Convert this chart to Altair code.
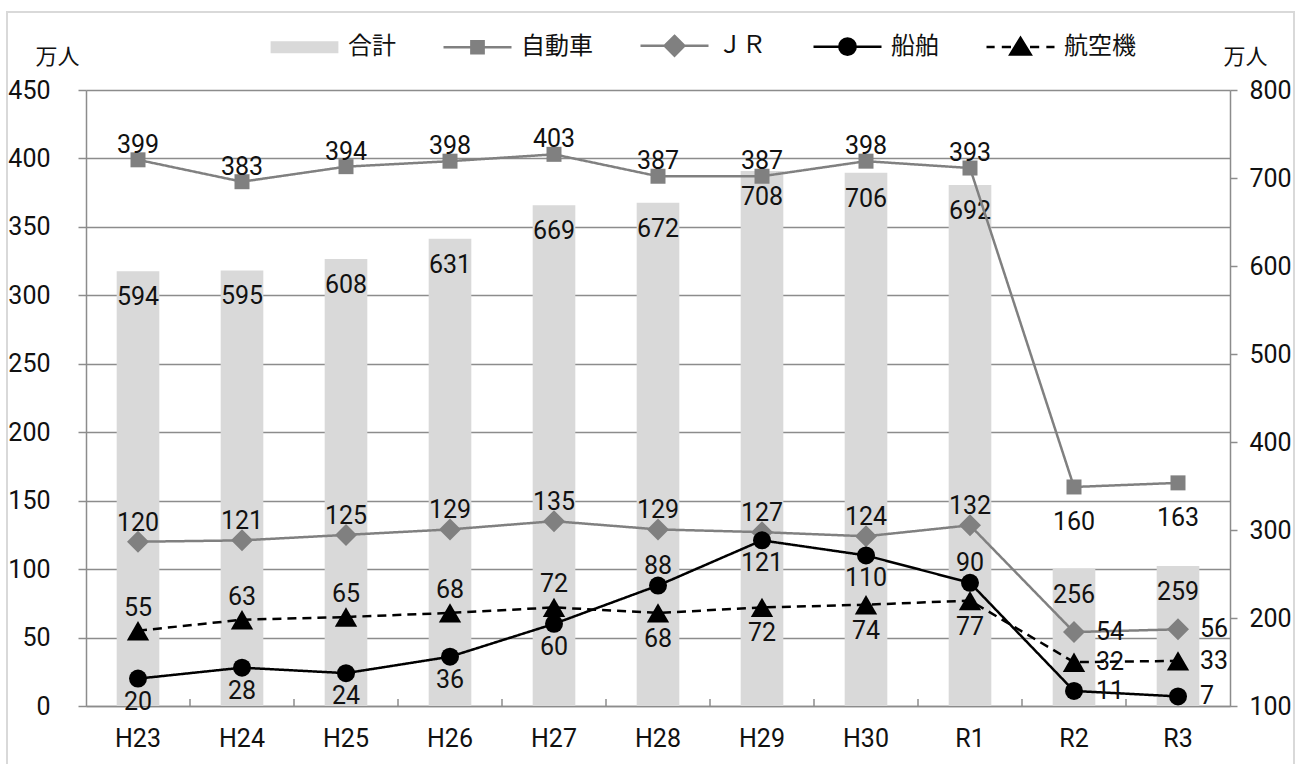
import altair as alt
import pandas as pd

# 年度ごとの利用者数（万人）
years = ["H23", "H24", "H25", "H26", "H27", "H28", "H29", "H30", "R1", "R2", "R3"]
total = [594, 595, 608, 631, 669, 672, 708, 706, 692, 256, 259]
car = [399, 383, 394, 398, 403, 387, 387, 398, 393, 160, 163]
jr = [120, 121, 125, 129, 135, 129, 127, 124, 132, 54, 56]
ship = [20, 28, 24, 36, 60, 88, 121, 110, 90, 11, 7]
air = [55, 63, 65, 68, 72, 68, 72, 74, 77, 32, 33]

# データラベルの配置（系列ごと）
car_pos = ["above"] * 9 + ["below"] * 2
jr_pos = ["above"] * 9 + ["right"] * 2
ship_pos = ["below", "below", "below", "below", "below", "above",
            "below", "below", "above", "right", "right"]
air_pos = ["above"] * 5 + ["below"] * 4 + ["right"] * 2

series_names = ["合計", "自動車", "ＪＲ", "船舶", "航空機"]

NUM_FONT = "Liberation Sans Narrow, Roboto, sans-serif"
CJK_FONT = "Noto Sans CJK JP, sans-serif"
GRID = "#8c8c8c"
TXT = "#111111"
BAR = "#d9d9d9"
W, H = 1144, 616

df_total = pd.DataFrame({"year": years, "total": total})

frames = []
for name, vals, pos in [("自動車", car, car_pos), ("ＪＲ", jr, jr_pos),
                        ("船舶", ship, ship_pos), ("航空機", air, air_pos)]:
    frames.append(pd.DataFrame({"year": years, "value": vals, "pos": pos, "series": name}))
df_lines = pd.concat(frames, ignore_index=True)

x_scale = alt.Scale(type="band", domain=years, paddingInner=0, paddingOuter=0)
x_axis = alt.Axis(title=None, labelAngle=0, ticks=False, grid=False,
                  domainColor=GRID, domainWidth=1.5, labelPadding=20,
                  labelFont=NUM_FONT, labelFontSize=25, labelColor=TXT)
x_enc = alt.X("year:N", sort=years, scale=x_scale, axis=x_axis)
x_edge = alt.X("year:N", sort=years, scale=x_scale, axis=x_axis, bandPosition=0)

y_left = alt.Y(
    "value:Q",
    scale=alt.Scale(domain=[0, 450], nice=False, zero=True),
    axis=alt.Axis(title="万人", orient="left", values=list(range(0, 451, 50)),
                  grid=True, gridColor=GRID, gridWidth=1.5,
                  tickSize=8, tickColor=GRID, tickWidth=1.5,
                  domainColor=GRID, domainWidth=1.5, labelPadding=28,
                  labelFont=NUM_FONT, labelFontSize=25, labelColor=TXT,
                  titleAngle=0, titleX=-29, titleY=-34, titleAlign="center",
                  titleBaseline="middle", titleFont=CJK_FONT, titleFontSize=22,
                  titleFontWeight="normal", titleColor=TXT),
)

y_right = alt.Y(
    "total:Q",
    scale=alt.Scale(domain=[100, 800], nice=False, zero=False),
    axis=alt.Axis(title="万人", orient="right", values=list(range(100, 801, 100)),
                  grid=False, tickSize=7, tickColor=GRID, tickWidth=1.5,
                  domainColor=GRID, domainWidth=1.5, labelPadding=12,
                  labelFont=NUM_FONT, labelFontSize=25, labelColor=TXT,
                  titleAngle=0, titleX=15, titleY=-34, titleAlign="center",
                  titleBaseline="middle", titleFont=CJK_FONT, titleFontSize=22,
                  titleFontWeight="normal", titleColor=TXT),
)

# 合計（右軸・棒グラフ）
bars = alt.Chart(df_total).mark_bar(width=alt.RelativeBandSize(0.41), color=BAR).encode(
    x=x_enc, y=y_right, y2=alt.datum(100)
)
bar_labels = alt.Chart(df_total).mark_text(
    dy=26, baseline="middle", font=NUM_FONT, fontSize=25, color=TXT
).encode(x=x_enc, y=y_right, text="total:Q")

# 各交通機関（左軸・折れ線）
line_styles = {
    "自動車": dict(color="#808080", shape="square", size=225, dash=[1, 0]),
    "ＪＲ": dict(color="#808080", shape="diamond", size=484, dash=[1, 0]),
    "船舶": dict(color="#000000", shape="circle", size=324, dash=[1, 0]),
    "航空機": dict(color="#000000", shape="triangle-up", size=500, dash=[9, 6]),
}
above_dy = {"自動車": -7, "ＪＲ": -11, "船舶": -12, "航空機": -15}
below_dy = {"自動車": 23, "ＪＲ": 12, "船舶": 11, "航空機": 14}

line_layers = []
label_layers = []
for name, st in line_styles.items():
    base = alt.Chart(df_lines).transform_filter(alt.datum.series == name)
    line_layers.append(
        base.mark_line(color=st["color"], strokeWidth=2.5, strokeDash=st["dash"])
        .encode(x=x_enc, y=y_left)
    )
    line_layers.append(
        base.mark_point(filled=True, shape=st["shape"], size=st["size"],
                        color=st["color"], opacity=1)
        .encode(x=x_enc, y=y_left)
    )
    label_layers.append(
        base.transform_filter(alt.datum.pos == "above")
        .mark_text(dy=above_dy[name], baseline="alphabetic", font=NUM_FONT,
                   fontSize=25, color=TXT)
        .encode(x=x_enc, y=y_left, text="value:Q")
    )
    label_layers.append(
        base.transform_filter(alt.datum.pos == "below")
        .mark_text(dy=below_dy[name], baseline="top", font=NUM_FONT,
                   fontSize=25, color=TXT)
        .encode(x=x_enc, y=y_left, text="value:Q")
    )
    label_layers.append(
        base.transform_filter(alt.datum.pos == "right")
        .mark_text(dx=22, align="left", baseline="middle", font=NUM_FONT,
                   fontSize=25, color=TXT)
        .encode(x=x_enc, y=y_left, text="value:Q")
    )

# 横軸の区切り目盛（内向き）
tick_rules = alt.Chart(pd.DataFrame({"year": years[1:]})).mark_rule(
    color=GRID, strokeWidth=1.5
).encode(x=x_edge, y=alt.value(H - 7), y2=alt.value(H))

# 凡例：線＋マーカーの記号を SVG パスで表現
legend_paths = [
    "M-0.96,-0.14H0.96V0.14H-0.96Z",
    "M-1,0H1M-0.18,-0.18H0.18V0.18H-0.18Z",
    "M-1,0H1M0,-0.29L0.29,0L0,0.29L-0.29,0Z",
    "M-1,0H1M-0.24,0A0.24,0.24 0 1,0 0.24,0A0.24,0.24 0 1,0 -0.24,0Z",
    "M-1,0H-0.76M-0.55,0H-0.28M0.28,0H0.55M0.76,0H1M0,-0.27L0.3,0.22H-0.3Z",
]
legend_colors = [BAR, "#808080", "#808080", "#000000", "#000000"]
legend_spec = alt.Legend(
    title=None, orient="none", legendX=183, legendY=-80, direction="horizontal",
    symbolSize=4624, symbolStrokeWidth=2.5, symbolOpacity=1,
    labelFont=CJK_FONT, labelFontSize=24, labelColor=TXT, labelOffset=8,
    columnPadding=42, padding=0, labelLimit=0,
)
df_legend = pd.DataFrame({"series": series_names, "year": years[:5], "value": [0] * 5})
legend_layer = alt.Chart(df_legend).transform_filter("false").mark_point(
    filled=True, opacity=1
).encode(
    x=x_enc, y=y_left,
    shape=alt.Shape("series:N", scale=alt.Scale(domain=series_names, range=legend_paths),
                    legend=legend_spec),
    fill=alt.Fill("series:N", scale=alt.Scale(domain=series_names, range=legend_colors),
                  legend=legend_spec),
    stroke=alt.Stroke("series:N", scale=alt.Scale(domain=series_names, range=legend_colors),
                      legend=legend_spec),
)

# グラフエリアの枠線
frame = alt.Chart(df_total).mark_rect(
    fill=None, stroke="#d9d9d9", strokeWidth=1.5
).encode(x=alt.value(-79), x2=alt.value(1208), y=alt.value(-78), y2=alt.value(H + 70))

bar_group = alt.layer(bars, bar_labels)
line_group = alt.layer(tick_rules, *line_layers, *label_layers, legend_layer, frame)

chart = (
    alt.layer(bar_group, line_group)
    .resolve_scale(y="independent")
    .properties(
        width=W, height=H,
        autosize=alt.AutoSizeParams(type="none"),
        padding={"left": 86, "top": 90, "right": 72, "bottom": 58},
        background="white",
    )
    .configure_view(stroke=None)
)

chart.save("out.html", embed_options={"renderer": "svg", "actions": False})
